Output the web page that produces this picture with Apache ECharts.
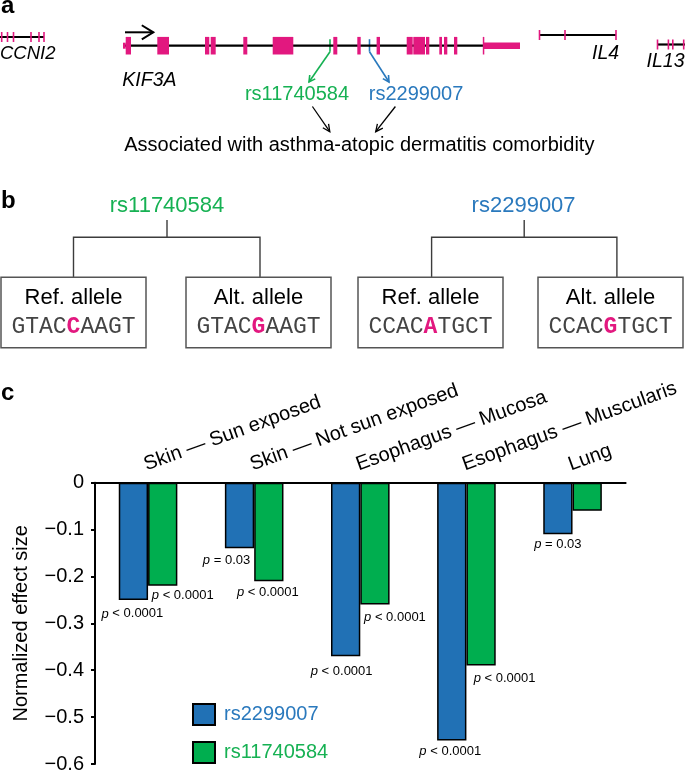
<!DOCTYPE html>
<html>
<head>
<meta charset="utf-8">
<script src="https://cdn.jsdelivr.net/npm/echarts@6/dist/echarts.min.js"></script>
<style>
html,body{margin:0;padding:0;background:#fff;}
#chart{width:685px;height:774px;}
</style>
</head>
<body>
<div id="chart"></div>
<script>
// ---------------- DATA ----------------
// Panel c
const tissues = ['Skin — Sun exposed', 'Skin — Not sun exposed', 'Esophagus — Mucosa', 'Esophagus — Muscularis', 'Lung'];
const rs2299007 = [-0.25, -0.14, -0.37, -0.55, -0.11];
const rs11740584 = [-0.22, -0.21, -0.26, -0.39, -0.06];
const pRs2299007 = ['< 0.0001', '= 0.03', '< 0.0001', '< 0.0001', '= 0.03'];
const pRs11740584 = ['< 0.0001', '< 0.0001', '< 0.0001', '< 0.0001', null];
const seriesNames = ['rs2299007', 'rs11740584'];

// Panel a: gene models (relative genomic position units along the locus)
const ccni2Span = [0, 44];
const ccni2Exons = [1.7, 7.5, 13.5, 31, 39, 44];
const kif3aSpan = [123, 483.3];
const kif3aCds = [[125.7,131],[157.3,169],[205,209.3],[210.7,215.7],[243.3,247.3],[272.7,293.3],[333.3,337.3],[357.3,360.7],[376.6,380],[406.7,412.7],[413.3,425],[426,429.3],[439.3,442],[444,447.3],[454,457.3],[482.8,484.3]];
const kif3aUtr = [[123,125.7],[483.3,520]];
const il4Span = [539.5, 616];
const il4Exons = [539.5, 565, 616];
const il13Span = [657.5, 685];
const il13Exons = [657.5, 668.4, 672.8, 683.7];
const snpPos = {rs11740584: 330, rs2299007: 369.5};

// Panel b
const alleles = [
  {snp: 'rs11740584', label: 'Ref. allele', pre: 'GTAC', base: 'C', post: 'AAGT'},
  {snp: 'rs11740584', label: 'Alt. allele', pre: 'GTAC', base: 'G', post: 'AAGT'},
  {snp: 'rs2299007', label: 'Ref. allele', pre: 'CCAC', base: 'A', post: 'TGCT'},
  {snp: 'rs2299007', label: 'Alt. allele', pre: 'CCAC', base: 'G', post: 'TGCT'}
];

// ---------------- STYLE ----------------
const FONT = "'Liberation Sans', Arial, Helvetica, sans-serif";
const MONO = "'Liberation Mono', 'Courier New', monospace";
const BLUE = '#2171B5', GREEN = '#00AE4F', PINK = '#E2187F';
const BLUE_T = '#2A79BD', GREEN_T = '#16B153';
const track = {CCNI2: 37, KIF3A: 45.7, IL4: 35, IL13: 44.5};

function mid(baseline, size) { return baseline - 0.35 * size; }
function text(x, baseline, str, size, o) {
  o = o || {};
  return {type: 'text', x: x, y: mid(baseline, size), silent: true,
    style: {text: str, fontSize: size, fontFamily: o.family || FONT, fontStyle: o.style || 'normal',
      fontWeight: o.weight || 'normal', fill: o.color || '#000', align: o.align || 'left', verticalAlign: 'middle'}};
}
function line(points, color, w) {
  return {type: 'polyline', silent: true, shape: {points: points}, style: {stroke: color, lineWidth: w, fill: null}};
}
function arrow(x1, y1, x2, y2, color, w, len, ang) {
  const t = Math.atan2(y2 - y1, x2 - x1);
  const head = [[x2 - len * Math.cos(t - ang), y2 - len * Math.sin(t - ang)], [x2, y2], [x2 - len * Math.cos(t + ang), y2 - len * Math.sin(t + ang)]];
  return [line([[x1, y1], [x2, y2]], color, w), line(head, color, w)];
}

// ---------------- GRAPHIC (panels a, b annotations) ----------------
const g = [];
g.push(text(1, 14.5, 'a', 24, {weight: 'bold'}));
g.push(text(1, 210, 'b', 24, {weight: 'bold'}));
g.push(text(1, 402, 'c', 24, {weight: 'bold'}));
g.push(text(0, 60, 'CCNI2', 18.5, {style: 'italic'}));
g.push(text(122.3, 87.5, 'KIF3A', 19.5, {style: 'italic'}));
g.push(text(592, 60, 'IL4', 19.5, {style: 'italic'}));
g.push(text(646.6, 68, 'IL13', 19.5, {style: 'italic'}));
g.push(...arrow(125, 32.3, 153.3, 32.3, '#000', 2, 13.5, 0.55));
const ky = track.KIF3A;
g.push(line([[snpPos.rs11740584, ky - 6.5], [snpPos.rs11740584, ky + 6]], GREEN_T, 1.6));
g.push(...arrow(snpPos.rs11740584, ky + 6, 309, 82, GREEN_T, 1.6, 7, 0.5));
g.push(line([[snpPos.rs2299007, ky - 6.5], [snpPos.rs2299007, ky + 6]], BLUE_T, 1.6));
g.push(...arrow(snpPos.rs2299007, ky + 6, 389, 82, BLUE_T, 1.6, 7, 0.5));
g.push(text(297, 101.5, 'rs11740584', 20, {color: GREEN_T, align: 'center'}));
g.push(text(416, 101.5, 'rs2299007', 20, {color: BLUE_T, align: 'center'}));
g.push(...arrow(312.4, 106.5, 329.8, 131.7, '#000', 1.3, 8, 0.45));
g.push(...arrow(395.4, 106.5, 375.7, 131.7, '#000', 1.3, 8, 0.45));
g.push(text(359.3, 152.5, 'Associated with asthma-atopic dermatitis comorbidity', 20, {align: 'center'}));

// panel b
const boxes = [[1, 146], [186, 331], [358, 503], [538, 683]];
const TREE = '#3c3c3c';
g.push(text(167, 214, 'rs11740584', 22, {color: GREEN_T, align: 'center'}));
g.push(text(523.6, 214, 'rs2299007', 22, {color: BLUE_T, align: 'center'}));
g.push(line([[167, 220], [167, 237.3]], TREE, 1.4));
g.push(line([[73.5, 277.3], [73.5, 237.3], [260, 237.3], [260, 277.3]], TREE, 1.4));
g.push(line([[524.2, 220], [524.2, 237.3]], TREE, 1.4));
g.push(line([[431.6, 277.3], [431.6, 237.3], [616.9, 237.3], [616.9, 277.3]], TREE, 1.4));
alleles.forEach(function (a, i) {
  const b = boxes[i];
  const cx = (b[0] + b[1]) / 2;
  g.push({type: 'rect', silent: true, shape: {x: b[0], y: 277.3, width: b[1] - b[0], height: 70.5},
    style: {fill: '#fff', stroke: '#555', lineWidth: 1.5}});
  g.push(text(cx, 306, a.label, 22, {align: 'center'}));
  g.push({type: 'text', x: cx, y: mid(335, 23), silent: true, z: 10,
    style: {text: '{n|' + a.pre + '}{h|' + a.base + '}{n|' + a.post + '}', align: 'center', verticalAlign: 'middle',
      rich: {n: {fontFamily: MONO, fontSize: 23, fill: '#444'},
             h: {fontFamily: MONO, fontSize: 23, fontWeight: 'bold', fill: PINK}}}});
});

// ---------------- GENE SERIES ----------------
function rectSeries(data, height, color, z) {
  return {type: 'custom', xAxisIndex: 1, yAxisIndex: 1, silent: true, z: z, data: data,
    renderItem: function (params, api) {
      const p0 = api.coord([api.value(0), api.value(2)]);
      const p1 = api.coord([api.value(1), api.value(2)]);
      const h = api.size([0, height])[1];
      return {type: 'rect', shape: {x: p0[0], y: p0[1] - h / 2, width: Math.max(p1[0] - p0[0], 1.5), height: h}, style: {fill: color}};
    }};
}
function spanSeries(data) {
  return {type: 'custom', xAxisIndex: 1, yAxisIndex: 1, silent: true, z: 1, data: data,
    renderItem: function (params, api) {
      const p0 = api.coord([api.value(0), api.value(2)]);
      const p1 = api.coord([api.value(1), api.value(2)]);
      return {type: 'line', shape: {x1: p0[0], y1: p0[1], x2: p1[0], y2: p1[1]}, style: {stroke: '#000', lineWidth: 2.2}};
    }};
}
function tickSeries(data) {
  return {type: 'custom', xAxisIndex: 1, yAxisIndex: 1, silent: true, z: 3, data: data,
    renderItem: function (params, api) {
      const p = api.coord([api.value(0), api.value(1)]);
      const h = api.size([0, 10])[1];
      return {type: 'line', shape: {x1: p[0], y1: p[1] - h / 2, x2: p[0], y2: p[1] + h / 2}, style: {stroke: PINK, lineWidth: 1.6}};
    }};
}
const spans = [[ccni2Span[0], ccni2Span[1], track.CCNI2], [kif3aSpan[0], kif3aSpan[1], track.KIF3A],
  [il4Span[0], il4Span[1], track.IL4], [il13Span[0], il13Span[1], track.IL13]];
const ticks = [].concat(ccni2Exons.map(x => [x, track.CCNI2]), il4Exons.map(x => [x, track.IL4]), il13Exons.map(x => [x, track.IL13]));
const cds = kif3aCds.map(e => [e[0], e[1], track.KIF3A]);
const utr = kif3aUtr.map(e => [e[0], e[1], track.KIF3A]);

// ---------------- BAR SERIES ----------------
const blueOff = [[-1, 7.5], [-13, 5.5], [-4, 9], [-1.5, 4.5], [0, 3.5]];
const greenOff = [[20, 3], [-1, 5], [20, 6.5], [23.5, 6.2], [0, 0]];
function pLabel(txt, off) {
  if (!txt) return {show: false};
  return {show: true, position: 'bottom', distance: 0, offset: off,
    formatter: '{i|p} ' + txt, fontFamily: FONT, fontSize: 13, color: '#000',
    rich: {i: {fontStyle: 'italic', fontFamily: FONT, fontSize: 13, color: '#000'}}};
}
function barSeries(name, vals, pv, color, offs) {
  return {type: 'bar', name: name, xAxisIndex: 0, yAxisIndex: 0, barWidth: 29.3, barGap: '0%',
    itemStyle: {color: color, borderColor: '#000', borderWidth: 1.5},
    data: vals.map((v, i) => ({value: v, label: pLabel(pv[i], offs[i])}))};
}
function legendFor(name, color, top) {
  return {orient: 'vertical', left: 192, top: top, itemWidth: 22, itemHeight: 21,
    icon: 'rect', selectedMode: false, padding: 0,
    textStyle: {fontSize: 20, fontFamily: FONT, color: color, padding: [0, 0, 0, 4]},
    data: [{name: name}]};
}

const option = {
  backgroundColor: '#fff',
  animation: false,
  grid: [
    {left: 95, top: 482.7, width: 530.6, height: 285, containLabel: false},
    {left: 0, top: 0, width: 685, height: 160}
  ],
  xAxis: [
    {type: 'category', gridIndex: 0, position: 'top', data: tissues,
      axisLine: {lineStyle: {color: '#000', width: 2}}, axisTick: {show: false},
      axisLabel: {interval: 0, rotate: 20, fontSize: 20, fontFamily: FONT, color: '#000', margin: 8, align: 'left', verticalAlign: 'bottom'},
      splitLine: {show: false}},
    {type: 'value', gridIndex: 1, min: 0, max: 685, show: false}
  ],
  yAxis: [
    {type: 'value', gridIndex: 0, min: -0.6, max: 0, interval: 0.1,
      name: 'Normalized effect size', nameLocation: 'middle', nameGap: 64,
      nameTextStyle: {fontSize: 20, fontFamily: FONT, color: '#000'},
      axisLine: {show: true, lineStyle: {color: '#000', width: 2}},
      axisTick: {show: true, length: 4, lineStyle: {color: '#000', width: 2}},
      axisLabel: {fontSize: 20, fontFamily: FONT, color: '#000', margin: 11,
        formatter: v => (Math.abs(v) < 1e-9 ? '0' : '\u2212' + Math.abs(v).toFixed(1))},
      splitLine: {show: false}},
    {type: 'value', gridIndex: 1, min: 0, max: 160, inverse: true, show: false}
  ],
  legend: [legendFor(seriesNames[0], BLUE_T, 703), legendFor(seriesNames[1], GREEN_T, 741)],
  series: [
    barSeries(seriesNames[0], rs2299007, pRs2299007, BLUE, blueOff),
    barSeries(seriesNames[1], rs11740584, pRs11740584, GREEN, greenOff),
    spanSeries(spans),
    rectSeries(cds, 17.6, PINK, 2),
    rectSeries(utr.slice(0, 1), 6, PINK, 2),
    rectSeries(utr.slice(1), 6.6, PINK, 2),
    tickSeries(ticks)
  ],
  graphic: g
};

const chart = echarts.init(document.getElementById('chart'), null, {renderer: 'canvas'});
chart.setOption(option);
</script>
</body>
</html>
